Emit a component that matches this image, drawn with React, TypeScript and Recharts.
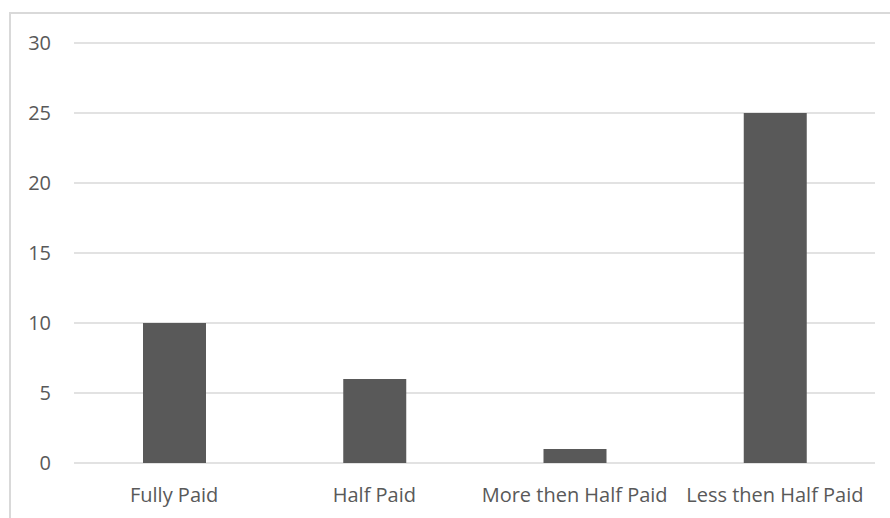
import { BarChart, Bar, XAxis, YAxis, CartesianGrid } from 'recharts'

const categories = ['Fully Paid', 'Half Paid', 'More then Half Paid', 'Less then Half Paid']
const counts = [10, 6, 1, 25]
const yTicks = [0, 5, 10, 15, 20, 25, 30]

const data = categories.map((name, i) => ({ name, value: counts[i] }))

const tickStyle = { fill: '#595959', fontSize: 20, fontFamily: 'Open Sans, sans-serif' }

export default function App() {
  return (
    <div style={{ position: 'absolute', left: 0, top: 0, width: 890, height: 518, overflow: 'hidden', background: '#fff' }}>
      {/* chart frame */}
      <div
        style={{
          position: 'absolute',
          left: 9,
          top: 12,
          width: 900,
          height: 600,
          border: '2px solid #d9d9d9',
          boxSizing: 'border-box',
        }}
      />
      <div style={{ position: 'absolute', left: 0, top: 0 }}>
        <BarChart width={890} height={518} data={data} margin={{ top: 43, right: 15, bottom: 0, left: 0 }}>
          <CartesianGrid vertical={false} stroke="#d9d9d9" strokeWidth={1.3} />
          <XAxis
            dataKey="name"
            height={55}
            axisLine={false}
            tickLine={false}
            tickSize={0}
            tickMargin={25}
            tick={tickStyle}
            interval={0}
          />
          <YAxis
            width={74}
            domain={[0, 30]}
            ticks={yTicks}
            axisLine={false}
            tickLine={false}
            tickSize={0}
            tickMargin={23}
            tick={tickStyle}
          />
          <Bar dataKey="value" fill="#595959" barSize={63} isAnimationActive={false} />
        </BarChart>
      </div>
    </div>
  )
}
